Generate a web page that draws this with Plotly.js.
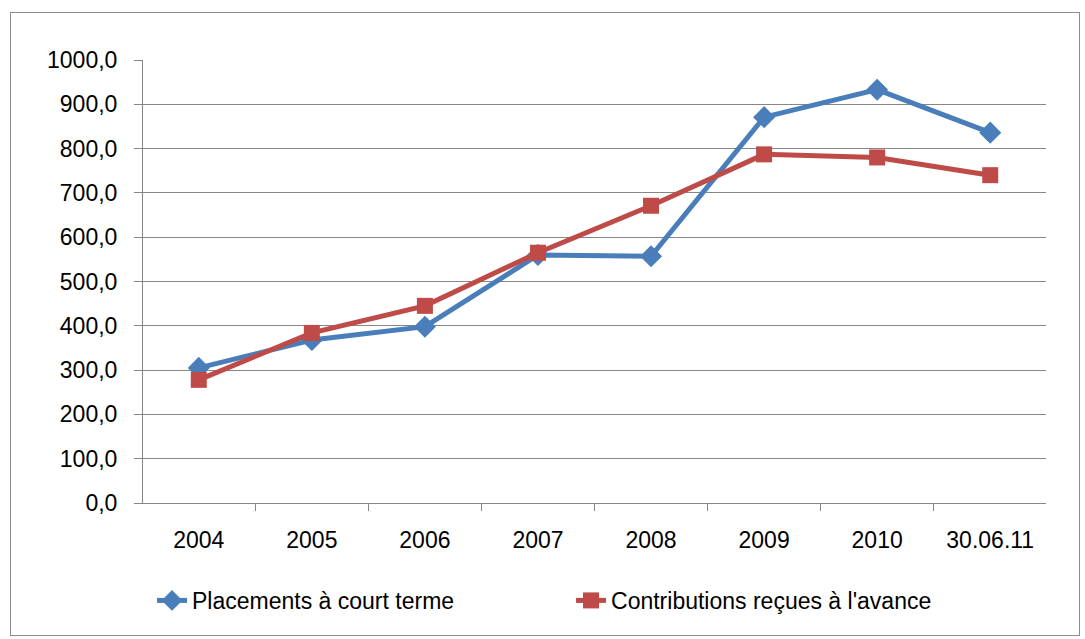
<!DOCTYPE html>
<html>
<head>
<meta charset="utf-8">
<script src="https://cdn.plot.ly/plotly-3.0.1.min.js"></script>
<style>
  body { margin: 0; background: #fff; }
  #wrap { position: relative; width: 1085px; height: 639px; }
  #chart { width: 1085px; height: 639px; }
  #cadre { position: absolute; left: 10px; top: 12px; width: 1068px; height: 622px;
           border: 1px solid #8c8c8c; pointer-events: none; }
</style>
</head>
<body>
<div id="wrap">
  <div id="chart"></div>
  <div id="cadre"></div>
</div>
<script>
// données
const periodes = ["2004", "2005", "2006", "2007", "2008", "2009", "2010", "30.06.11"];
const placements = [305, 368, 398, 560, 557, 871, 933, 836];
const contributions = [278, 384, 445, 565, 671, 787, 780, 740];
const ticksY = [0, 100, 200, 300, 400, 500, 600, 700, 800, 900, 1000];

const police = { family: "Liberation Sans, Arial, sans-serif", size: 23, color: "#000" };

Plotly.newPlot("chart", [
  {
    x: periodes, y: placements, type: "scatter", mode: "lines+markers",
    name: "Placements à court terme",
    line: { color: "#4A7EBB", width: 5 },
    marker: { symbol: "diamond", size: 17, color: "#4A7EBB" }
  },
  {
    x: periodes, y: contributions, type: "scatter", mode: "lines+markers",
    name: "Contributions reçues à l'avance",
    line: { color: "#BE4B48", width: 5 },
    marker: { symbol: "square", size: 16, color: "#BE4B48" }
  }
], {
  width: 1085, height: 639,
  margin: { l: 143, r: 39, t: 60, b: 136 },
  paper_bgcolor: "#fff", plot_bgcolor: "#fff",
  font: police,
  separators: ", ",
  showlegend: true,
  legend: {
    orientation: "h", x: 0.01, xanchor: "left", y: -0.22, yanchor: "middle",
    font: police, entrywidth: 374, entrywidthmode: "pixels", tracegroupgap: 0
  },
  xaxis: {
    type: "category", showgrid: false, showline: true, linecolor: "#868686", linewidth: 1,
    ticks: "outside", tickson: "boundaries", ticklen: 7, tickcolor: "#868686",
    tickfont: police, zeroline: false, ticklabelstandoff: 16
  },
  yaxis: {
    range: [0, 1000], tickvals: ticksY, tickformat: ".1f",
    showgrid: true, gridcolor: "#868686", gridwidth: 1,
    showline: true, linecolor: "#868686", linewidth: 1,
    ticks: "outside", ticklen: 8, tickcolor: "#868686",
    tickfont: police, zeroline: false, ticklabelstandoff: 12
  }
}, { displayModeBar: false });
</script>
</body>
</html>
